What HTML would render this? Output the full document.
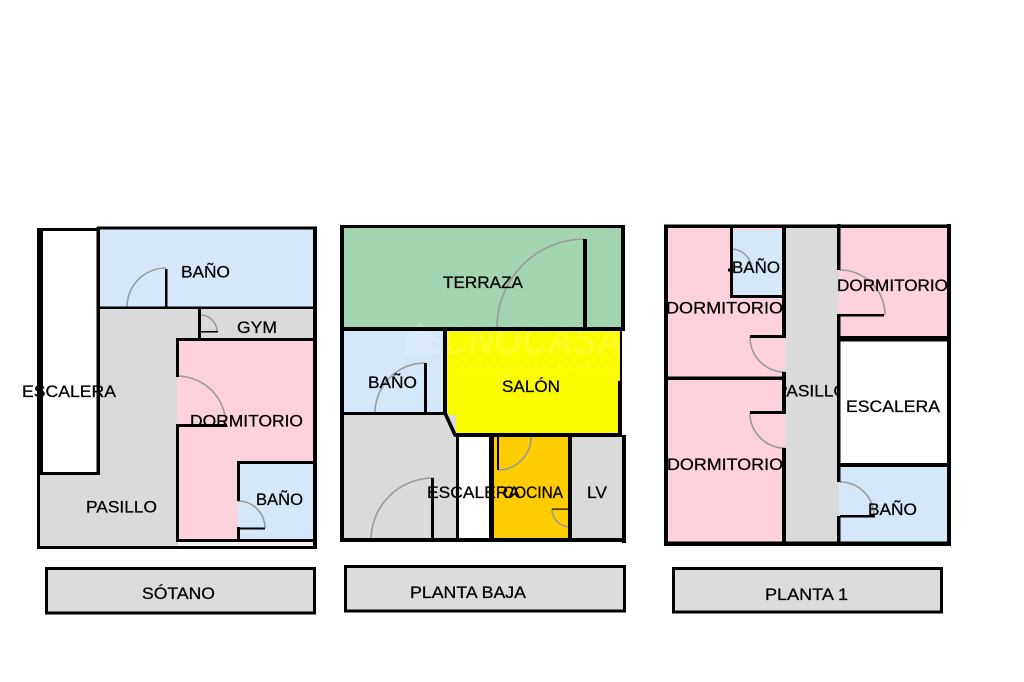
<!DOCTYPE html>
<html>
<head>
<meta charset="utf-8">
<style>
  html,body{margin:0;padding:0;background:#fff;}
  svg{display:block;}
  text{font-family:"Liberation Sans", Arial, sans-serif;font-size:17px;fill:#000;stroke:#000;stroke-width:0.25px;}
</style>
</head>
<body>
<svg width="1024" height="682" viewBox="0 0 1024 682" xmlns="http://www.w3.org/2000/svg">
<rect x="0" y="0" width="1024" height="682" fill="#fff"/>

<!-- ================= SÓTANO ================= -->
<g>
  <rect x="38" y="229" width="278" height="318" fill="#dadada"/>
  <rect x="40" y="229" width="58" height="244" fill="#fff"/>
  <rect x="98" y="229" width="217" height="78" fill="#d5e8fa"/>
  <rect x="177" y="339" width="138" height="202" fill="#fdd2dc"/>
  <rect x="238" y="462" width="76" height="78" fill="#d5e8fa"/>
  <rect x="178" y="542" width="137" height="4" fill="#f2f2f2"/>

  <g fill="none" stroke="#9a9a9a" stroke-width="1.6">
    <path d="M127,307 A39,39 0 0 1 166,268"/>
    <path d="M200,315 A17,17 0 0 1 217,332"/>
    <path d="M177,376 A49,49 0 0 1 226,425"/>
    <path d="M238,501 A27,27 0 0 1 265,528"/>
  </g>

  <g fill="#000">
    <rect x="37" y="228" width="6" height="247"/>
    <rect x="37" y="228" width="62" height="3"/>
    <rect x="96.5" y="227" width="3.5" height="248"/>
    <rect x="37" y="472" width="63" height="3"/>
    <rect x="37" y="474" width="3" height="75"/>
    <rect x="37" y="546" width="280" height="3"/>
    <rect x="97" y="226.5" width="220" height="3"/>
    <rect x="313" y="227" width="4" height="322"/>
    <rect x="97" y="306.5" width="219" height="2.5"/>
    <rect x="198" y="308" width="3" height="31"/>
    <rect x="176" y="338" width="140" height="3"/>
    <rect x="176" y="338" width="3" height="39"/>
    <rect x="176" y="424" width="3" height="118"/>
    <rect x="176" y="424" width="51" height="3"/>
    <rect x="176" y="539" width="140" height="3"/>
    <rect x="237" y="461" width="3" height="40"/>
    <rect x="237" y="527" width="3" height="14"/>
    <rect x="237" y="461" width="79" height="3"/>
    <rect x="238" y="527.5" width="27" height="2"/>
    <rect x="165" y="269" width="2.5" height="39"/>
    <rect x="200" y="331" width="18" height="1.5"/>
  </g>

  <text x="22" y="397" textLength="94" lengthAdjust="spacingAndGlyphs">ESCALERA</text>
  <text x="181" y="277.5" textLength="49" lengthAdjust="spacingAndGlyphs">BAÑO</text>
  <text x="237" y="333" textLength="40" lengthAdjust="spacingAndGlyphs">GYM</text>
  <text x="190" y="426.5" textLength="113" lengthAdjust="spacingAndGlyphs">DORMITORIO</text>
  <text x="86" y="512.5" textLength="71" lengthAdjust="spacingAndGlyphs">PASILLO</text>
  <text x="256" y="505" textLength="47" lengthAdjust="spacingAndGlyphs">BAÑO</text>
</g>

<!-- ================= PLANTA BAJA ================= -->
<g>
  <rect x="342" y="226" width="282" height="315" fill="#fff"/>
  <rect x="344" y="228" width="278" height="99" fill="#a3d4b0"/>
  <rect x="344" y="331" width="99" height="82" fill="#d5e8fa"/>
  <polygon points="447,331 620,331 620,433 456,433 447,415" fill="#fbfb00"/>
  <rect x="344" y="415" width="112" height="124" fill="#dadada"/>
  <rect x="458" y="437" width="33" height="102" fill="#fff"/>
  <rect x="494" y="437" width="74" height="102" fill="#ffcc00"/>
  <rect x="572" y="437" width="51" height="102" fill="#dadada"/>

  <!-- faint watermark -->
  <g opacity="0.14">
    <text x="398" y="354" style="font-size:40px;font-weight:bold;font-style:italic;fill:#fff;stroke:none" textLength="224" lengthAdjust="spacingAndGlyphs">TECNOCASA</text>
    <text x="460" y="369" style="font-size:7px;font-weight:bold;fill:#fff;stroke:none;letter-spacing:4px">FRANCHISING NETWORK</text>
    <polygon points="402,340 420,322 438,340 432,340 432,356 408,356 408,340" fill="#fff"/>
  </g>

  <g fill="none" stroke="#9a9a9a" stroke-width="1.6">
    <path d="M497,327 A88,88 0 0 1 585,239"/>
    <path d="M375,413 A50,50 0 0 1 425,363"/>
    <path d="M371,540 A62,62 0 0 1 433,478"/>
    <path d="M498,470 A33,33 0 0 0 531,437"/>
    <path d="M552,509 A18,18 0 0 0 570,527"/>
  </g>

  <g fill="#000">
    <rect x="340" y="225" width="4" height="317"/>
    <rect x="340" y="225" width="285" height="3"/>
    <rect x="621" y="225" width="4" height="106"/>
    <rect x="340" y="327" width="285" height="4"/>
    <rect x="583" y="239" width="4" height="88"/>
    <rect x="443" y="331" width="4" height="84"/>
    <rect x="424" y="363" width="3" height="50"/>
    <rect x="340" y="412" width="107" height="3"/>
    <rect x="620" y="331" width="2" height="52"/>
    <rect x="618" y="381" width="4" height="56"/>
    <rect x="455" y="433" width="167" height="4"/>
    <rect x="456" y="435" width="3" height="106"/>
    <rect x="489" y="435" width="5" height="106"/>
    <rect x="568" y="435" width="4" height="106"/>
    <rect x="622" y="435" width="4" height="108"/>
    <rect x="340" y="538" width="286" height="4"/>
    <rect x="431" y="478" width="3" height="62"/>
    <rect x="497" y="437" width="2" height="33"/>
    <rect x="552" y="508.5" width="18" height="1.2"/>
    <rect x="569" y="509" width="1.2" height="19"/>
  </g>
  <line x1="445" y1="413" x2="455.5" y2="436" stroke="#000" stroke-width="3.5"/>

  <text x="443" y="288" textLength="80" lengthAdjust="spacingAndGlyphs">TERRAZA</text>
  <text x="368" y="388" textLength="49" lengthAdjust="spacingAndGlyphs">BAÑO</text>
  <text x="502" y="392" textLength="58" lengthAdjust="spacingAndGlyphs">SALÓN</text>
  <text x="427" y="498" textLength="93" lengthAdjust="spacingAndGlyphs">ESCALERA</text>
  <text x="503" y="498" textLength="60" lengthAdjust="spacingAndGlyphs">COCINA</text>
  <text x="587" y="498" textLength="20" lengthAdjust="spacingAndGlyphs">LV</text>
</g>

<!-- ================= PLANTA 1 ================= -->
<g>
  <defs>
    <clipPath id="pas1"><rect x="786" y="227" width="52" height="316"/></clipPath>
  </defs>
  <rect x="666" y="227" width="120" height="316" fill="#fdd2dc"/>
  <rect x="733" y="230" width="49" height="65" fill="#d5e8fa"/>
  <rect x="785" y="227" width="54" height="316" fill="#dadada"/>
  <text x="776" y="396.5" textLength="71" lengthAdjust="spacingAndGlyphs" clip-path="url(#pas1)">PASILLO</text>
  <rect x="839" y="227" width="109" height="110" fill="#fdd2dc"/>
  <rect x="839" y="341.5" width="108.5" height="122" fill="#fff"/>
  <rect x="839" y="467" width="108.5" height="75" fill="#d5e8fa"/>

  <g fill="none" stroke="#9a9a9a" stroke-width="1.6">
    <path d="M731,249 A21,21 0 0 1 752,270"/>
    <path d="M750,337 A35,35 0 0 0 785,372"/>
    <path d="M750,413 A35,35 0 0 0 785,448"/>
    <path d="M840,270 A45,45 0 0 1 885,315"/>
    <path d="M840,482 A34,34 0 0 1 874,516"/>
  </g>

  <g fill="#000">
    <rect x="664" y="224.5" width="287" height="3.5"/>
    <rect x="664" y="225" width="4" height="321"/>
    <rect x="664" y="541.5" width="287" height="4.5"/>
    <rect x="947" y="224" width="4" height="322"/>
    <rect x="730" y="227" width="3" height="71"/>
    <rect x="730" y="295" width="55" height="3"/>
    <rect x="728" y="268.5" width="5" height="3"/>
    <rect x="782" y="227" width="4" height="110"/>
    <rect x="782" y="372" width="4" height="40"/>
    <rect x="782" y="448" width="4" height="96"/>
    <rect x="750" y="335" width="36" height="3"/>
    <rect x="750" y="411" width="36" height="3"/>
    <rect x="664" y="376.5" width="122" height="3.5"/>
    <rect x="837" y="224" width="3.5" height="46"/>
    <rect x="837" y="314" width="3.5" height="168"/>
    <rect x="837" y="516" width="3.5" height="28"/>
    <rect x="840" y="314" width="44" height="2.5"/>
    <rect x="837" y="336" width="114" height="5.5"/>
    <rect x="837" y="463" width="113" height="4"/>
    <rect x="840" y="515" width="35" height="2.5"/>
  </g>

  <text x="732" y="273" textLength="48" lengthAdjust="spacingAndGlyphs">BAÑO</text>
  <text x="666" y="313.5" textLength="117" lengthAdjust="spacingAndGlyphs">DORMITORIO</text>
  <text x="837" y="291" textLength="111" lengthAdjust="spacingAndGlyphs">DORMITORIO</text>
  <text x="667" y="470" textLength="116" lengthAdjust="spacingAndGlyphs">DORMITORIO</text>
  <text x="846" y="412" textLength="94" lengthAdjust="spacingAndGlyphs">ESCALERA</text>
  <text x="868" y="515" textLength="49" lengthAdjust="spacingAndGlyphs">BAÑO</text>
</g>

<!-- ================= LEVEL LABEL BOXES ================= -->
<g>
  <rect x="46.5" y="568.5" width="268" height="44.5" fill="#dcdcdc" stroke="#000" stroke-width="3"/>
  <text x="142" y="599" textLength="73" lengthAdjust="spacingAndGlyphs">SÓTANO</text>

  <rect x="345.5" y="566.5" width="279" height="44.5" fill="#dcdcdc" stroke="#000" stroke-width="3"/>
  <text x="410" y="598" textLength="116" lengthAdjust="spacingAndGlyphs">PLANTA BAJA</text>

  <rect x="673.5" y="568.5" width="268" height="43.5" fill="#dcdcdc" stroke="#000" stroke-width="3"/>
  <text x="765" y="600" textLength="83" lengthAdjust="spacingAndGlyphs">PLANTA 1</text>
</g>
</svg>
</body>
</html>
